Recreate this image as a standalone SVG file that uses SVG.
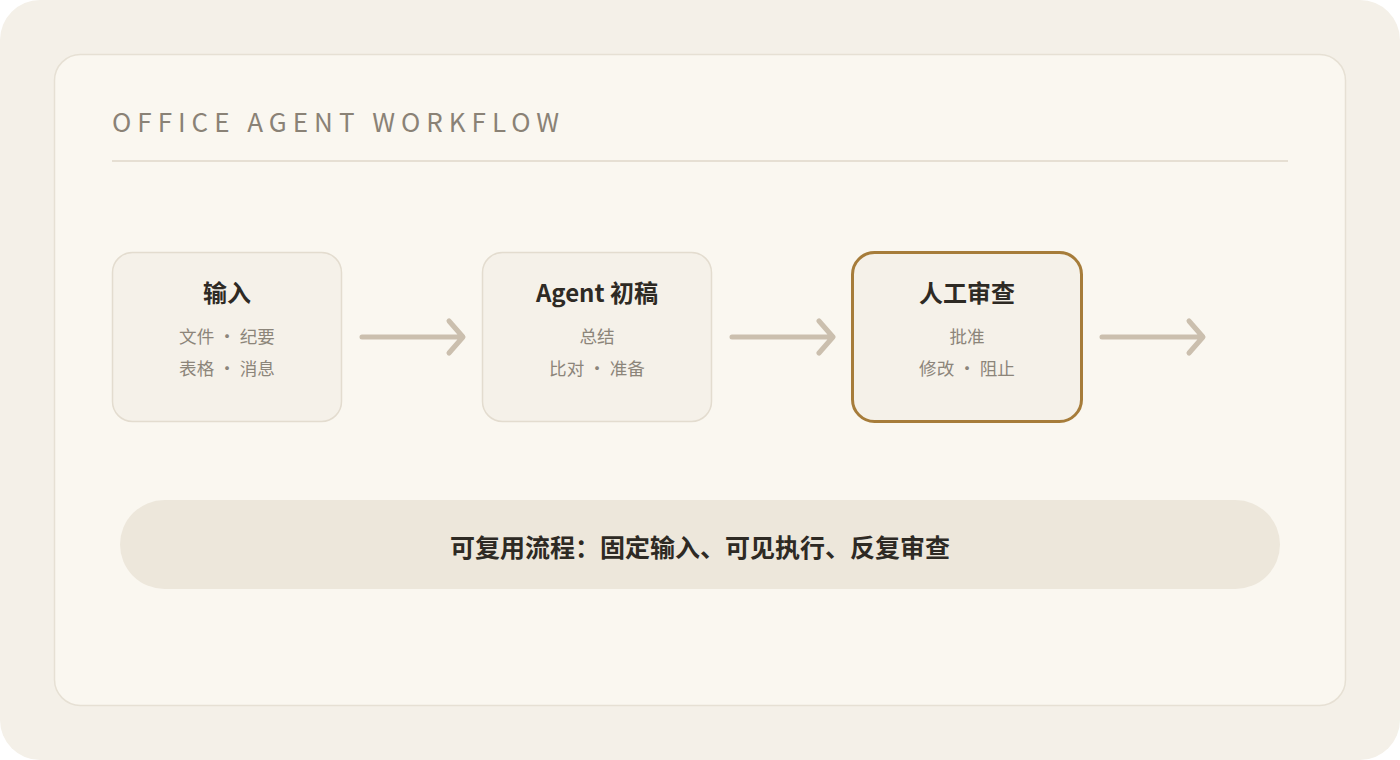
<svg xmlns="http://www.w3.org/2000/svg" width="1400" height="760" viewBox="0 0 1400 760">
<style>
.node rect{fill:#f5f1e9;stroke:#e3dccf;stroke-width:1.5}
.node.hl rect{stroke:#a67c3a;stroke-width:3}
.t{font-family:"Noto Sans CJK SC","Noto Sans",sans-serif;font-weight:700;font-size:24px;fill:#2e2a24;text-anchor:middle}
.s{font-family:"Noto Sans CJK SC","Noto Sans",sans-serif;font-size:17.6px;fill:#8c857a;text-anchor:middle}
.conn path{fill:none;stroke:#cbbfae;stroke-width:5;stroke-linecap:round;stroke-linejoin:round}
</style>
<rect x="0" y="0" width="1400" height="760" fill="#ffffff"/>
<rect x="0" y="0" width="1400" height="760" rx="40" fill="#f4f0e8"/>
<rect x="54.5" y="54.5" width="1291" height="651" rx="26" fill="#faf7f0" stroke="#e6e0d4" stroke-width="1.5"/>
<text x="112" y="132" font-family="Noto Sans CJK SC, Noto Sans, sans-serif" font-size="26" letter-spacing="6" fill="#8a8276">OFFICE AGENT WORKFLOW</text>
<line x1="112" y1="161" x2="1288" y2="161" stroke="#e6dfd3" stroke-width="2"/>
<g id="node-input" class="node">
<rect x="112.5" y="252.5" width="229" height="169" rx="20"/>
<text class="t" x="227" y="302">输入</text>
<text class="s" x="227" y="343">文件 · 纪要</text>
<text class="s" x="227" y="375">表格 · 消息</text>
</g>
<g id="node-agent" class="node">
<rect x="482.5" y="252.5" width="229" height="169" rx="20"/>
<text class="t" x="597" y="302">Agent 初稿</text>
<text class="s" x="597" y="343">总结</text>
<text class="s" x="597" y="375">比对 · 准备</text>
</g>
<g id="node-review" class="node hl">
<rect x="852.5" y="252.5" width="229" height="169" rx="22"/>
<text class="t" x="967" y="302">人工审查</text>
<text class="s" x="967" y="343">批准</text>
<text class="s" x="967" y="375">修改 · 阻止</text>
</g>
<g id="connectors" class="conn">
<path d="M362 337 H461 M449 321 L463 337 L449 353"/>
<path d="M732 337 H831 M819 321 L833 337 L819 353"/>
<path d="M1102 337 H1201 M1189 321 L1203 337 L1189 353"/>
</g>
<g id="summary">
<rect x="120" y="500" width="1160" height="89" rx="44.5" fill="#ede7db"/>
<text class="t" x="700" y="557" style="font-size:25px">可复用流程：固定输入、可见执行、反复审查</text>
</g>
</svg>
